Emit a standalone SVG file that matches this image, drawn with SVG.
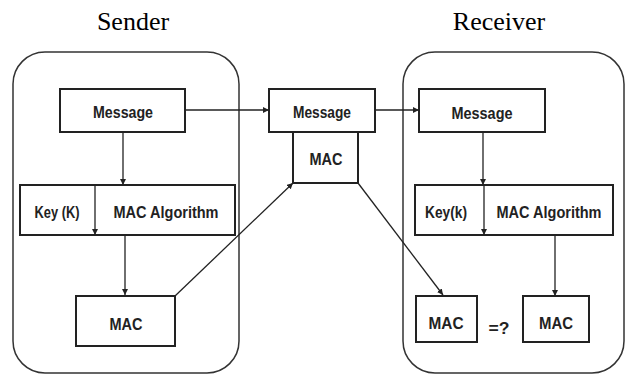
<svg xmlns="http://www.w3.org/2000/svg" width="626" height="376" viewBox="0 0 626 376">
  <defs>
    <marker id="arrow" viewBox="0 0 10 10" refX="10" refY="5" markerWidth="6" markerHeight="6" orient="auto" markerUnits="userSpaceOnUse">
      <path d="M0,0 L10,5 L0,10 z" fill="#222"/>
    </marker>
  </defs>
  <style>
    .panel { fill: none; stroke: #333; stroke-width: 1.5; }
    .box { fill: #fff; stroke: #222; stroke-width: 2; }
    .lbl { font-family: "Liberation Sans", Arial, sans-serif; font-weight: bold; font-size: 16px; fill: #222; text-anchor: middle; }
    .title { font-family: "Liberation Serif", "Times New Roman", serif; font-size: 26px; fill: #000; text-anchor: middle; }
    .wire { fill: none; stroke: #222; stroke-width: 1.3; marker-end: url(#arrow); }
  </style>
  <rect width="626" height="376" fill="#fff"/>

  <text class="title" x="133" y="30">Sender</text>
  <text class="title" x="499" y="30">Receiver</text>

  <g id="sender-panel"><rect class="panel" x="13" y="52" width="226" height="321" rx="32"/></g>
  <g id="receiver-panel"><rect class="panel" x="403" y="52" width="221" height="321" rx="32"/></g>

  <g id="connectors">
    <line class="wire" x1="185" y1="110" x2="269" y2="110"/>
    <line class="wire" x1="375" y1="110" x2="419" y2="110"/>
    <line class="wire" x1="123" y1="132" x2="123" y2="185"/>
    <line class="wire" x1="125" y1="235" x2="125" y2="295"/>
    <line class="wire" x1="175" y1="296" x2="293" y2="183"/>
    <line class="wire" x1="358" y1="183" x2="443" y2="295"/>
    <line class="wire" x1="483" y1="132" x2="483" y2="185"/>
    <line class="wire" x1="555" y1="235" x2="555" y2="296"/>
  </g>

  <g id="sender-message">
    <rect class="box" x="60" y="89" width="125" height="43"/>
    <text class="lbl" x="123" y="118" textLength="60" lengthAdjust="spacingAndGlyphs">Message</text>
  </g>
  <g id="sender-algorithm">
    <rect class="box" x="20" y="185" width="215" height="50"/>
    <line class="wire" x1="95" y1="185" x2="95" y2="235"/>
    <text class="lbl" x="57" y="218" textLength="45" lengthAdjust="spacingAndGlyphs">Key (K)</text>
    <text class="lbl" x="166" y="218" textLength="105" lengthAdjust="spacingAndGlyphs">MAC Algorithm</text>
  </g>
  <g id="sender-mac">
    <rect class="box" x="76" y="296" width="99" height="50"/>
    <text class="lbl" x="126" y="330" textLength="33" lengthAdjust="spacingAndGlyphs">MAC</text>
  </g>

  <g id="transit-message">
    <rect class="box" x="269" y="89" width="106" height="43"/>
    <text class="lbl" x="322" y="118" textLength="58" lengthAdjust="spacingAndGlyphs">Message</text>
  </g>
  <g id="transit-mac">
    <rect class="box" x="293" y="132" width="65" height="51"/>
    <text class="lbl" x="326" y="165" textLength="33" lengthAdjust="spacingAndGlyphs">MAC</text>
  </g>

  <g id="receiver-message">
    <rect class="box" x="419" y="89" width="126" height="43"/>
    <text class="lbl" x="482" y="119" textLength="61" lengthAdjust="spacingAndGlyphs">Message</text>
  </g>
  <g id="receiver-algorithm">
    <rect class="box" x="415" y="185" width="198" height="50"/>
    <line class="wire" x1="484" y1="185" x2="484" y2="235"/>
    <text class="lbl" x="446" y="218" textLength="42" lengthAdjust="spacingAndGlyphs">Key(k)</text>
    <text class="lbl" x="549" y="218" textLength="105" lengthAdjust="spacingAndGlyphs">MAC Algorithm</text>
  </g>
  <g id="receiver-mac-received">
    <rect class="box" x="416" y="296" width="61" height="46"/>
    <text class="lbl" x="446" y="329" textLength="35" lengthAdjust="spacingAndGlyphs">MAC</text>
  </g>
  <text class="lbl" x="499" y="334" font-size="20" textLength="21" lengthAdjust="spacingAndGlyphs">=?</text>
  <g id="receiver-mac-computed">
    <rect class="box" x="523" y="296" width="66" height="46"/>
    <text class="lbl" x="556" y="329" textLength="34" lengthAdjust="spacingAndGlyphs">MAC</text>
  </g>
</svg>
